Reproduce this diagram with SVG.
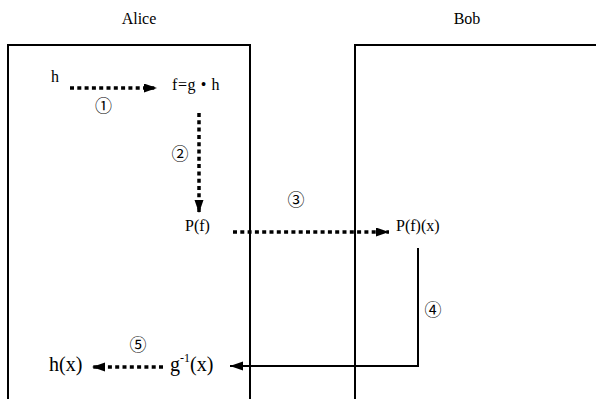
<svg xmlns="http://www.w3.org/2000/svg" width="596" height="399" viewBox="0 0 596 399">
<defs>
<style>
.lbl{font-family:"Liberation Serif","Times New Roman",serif;fill:#000}
.big{font-size:20px}
.mid{font-size:16px}
.num{font-family:"Noto Sans CJK JP","DejaVu Sans",sans-serif;font-size:17px;fill:#000;text-anchor:middle}
.box{fill:none;stroke:#000;stroke-width:2}
.dot{fill:none;stroke:#000;stroke-width:3.5;stroke-dasharray:4 3.3}
.solid{fill:none;stroke:#000;stroke-width:2}
</style>
<marker id="ah" markerUnits="userSpaceOnUse" markerWidth="14" markerHeight="10" refX="13" refY="4.5" orient="auto">
<path d="M0,0 L13,4.5 L0,9 z" fill="#000"/>
</marker>
</defs>
<rect width="596" height="399" fill="#fff"/>
<g id="alice">
<path class="box" d="M8,400 V45 H250 V400"/>
<text class="lbl mid" x="139" y="24" text-anchor="middle">Alice</text>
</g>
<g id="bob">
<path class="box" d="M355,400 V45 H597"/>
<text class="lbl mid" x="467" y="24" text-anchor="middle">Bob</text>
</g>
<g id="n-h"><text class="lbl mid" x="51" y="82">h</text></g>
<g id="n-f"><text class="lbl mid" x="172" y="90" letter-spacing="0.6">f=g • h</text></g>
<g id="n-pf"><text class="lbl mid" x="185" y="231">P(f)</text></g>
<g id="n-pfx"><text class="lbl mid" x="396" y="231">P(f)(x)</text></g>
<g id="n-hx"><text class="lbl big" x="49" y="371">h(x)</text></g>
<g id="n-ginv"><text class="lbl big" x="170" y="371">g<tspan font-size="12" dy="-9">-1</tspan><tspan dy="9">(x)</tspan></text></g>
<g id="connectors">
<line class="dot" x1="70" y1="88" x2="157" y2="88" marker-end="url(#ah)"/>
<line class="dot" x1="199" y1="113" x2="199" y2="213" marker-end="url(#ah)"/>
<line class="dot" x1="233" y1="232" x2="389" y2="232" marker-end="url(#ah)"/>
<path class="solid" d="M418,248 V366 H230" marker-end="url(#ah)"/>
<line class="dot" x1="163" y1="367" x2="92" y2="367" marker-end="url(#ah)"/>
<text class="num" x="103.5" y="112">①</text>
<text class="num" x="180" y="160">②</text>
<text class="num" x="296" y="206">③</text>
<text class="num" x="433" y="316">④</text>
<text class="num" x="138" y="351">⑤</text>
</g>
</svg>
